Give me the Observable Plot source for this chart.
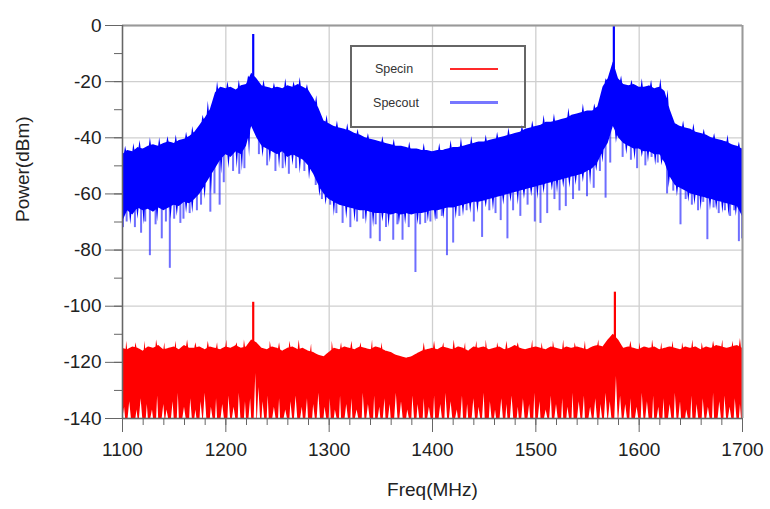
<!DOCTYPE html>
<html><head><meta charset="utf-8">
<script src="https://cdn.jsdelivr.net/npm/d3@7"></script>
<script src="https://cdn.jsdelivr.net/npm/@observablehq/plot@0.6"></script>
<style>
body{margin:0;background:#fff;font-family:"Liberation Sans",Arial,sans-serif;}
#wrap{position:relative;width:770px;height:509px;}
#legend{position:absolute;left:350px;top:45px;width:172px;height:79px;border:2px solid #666;box-sizing:content-box;}
#legend span{position:absolute;font-size:12.5px;color:#333;transform:translate(-50%,-50%);white-space:nowrap;}
#legend i{position:absolute;display:block;}
</style></head><body><div id="wrap"></div>
<script>
// Frequency sampling grid (MHz) for the envelope readings
const freqs = d3.range(1100, 1701, 5);

// Specout (blue): upper and lower edges of the dense noise band (dBm), every 5 MHz
const blueHi = [
  -46,-44.5,-45,-43.5,-44,-43,-42.5,-43,-42,-41.5,-42,-41,-40.5,-39.5,-38,-35.5,-33,-30,-24,-22,
  -22.5,-22,-23,-21.5,-21,-17,-19,-21.5,-22,-22.5,-22,-22.5,-21.5,-22,-21,-22,-23,-26,-29.5,-34,
  -35,-36,-36.5,-37,-37.5,-38.5,-39,-40,-40.5,-41,-41.5,-42,-42.5,-43,-43,-43.5,-44,-44,-44.5,-44.5,
  -45,-44.5,-44.5,-44,-43.5,-43.5,-43,-42.5,-42,-41.5,-41.5,-41,-40.5,-40,-39.5,-39,-38.5,-38,-37,-36.5,
  -36,-35.5,-34.5,-34.5,-34,-33.5,-33,-32,-31.5,-31,-30.5,-30.5,-29,-22,-19,-13,-19,-21,-21.5,-21,
  -22,-22,-21.5,-22.5,-22,-23.5,-30,-35,-36,-36.5,-37,-38,-38.5,-39,-40,-40.5,-41,-41.5,-42.5,-43,
  -44];
const blueLo = [
  -70,-66,-67.5,-65,-66,-65.5,-66.5,-65,-66,-65,-64,-64.5,-63,-63.5,-62,-60,-57,-54,-51,-48,
  -46,-47,-45,-46,-43,-36,-40,-43,-44,-45,-46,-45,-47,-46,-47,-48,-50,-53,-57,-60,
  -62,-63,-64,-64.5,-65,-65.5,-66,-66,-66.5,-67,-67,-67,-67.5,-67,-67.5,-67,-67.5,-67,-67,-66.5,
  -66,-66,-65.5,-65,-65,-64.5,-64,-63.5,-63,-63,-62.5,-62,-61.5,-61,-60.5,-60,-59.5,-59,-58.5,-58,
  -57.5,-57,-56.5,-56,-55.5,-55,-54.5,-54,-53.5,-53,-52,-51,-49,-45,-42,-36,-40,-42,-43,-44,
  -44,-45,-45,-46,-46,-49,-54,-57,-58,-59,-60,-60.5,-61,-61.5,-62,-62.5,-63,-63.5,-64,-64.5,
  -68];

// Specout: short spikes on the top edge (MHz, dBm)
const blueUpFreq = [1103,1111,1117,1127,1136,1144,1152,1162,1168,1178,1183,1192,1202,1213,1222,1237,1247,1258,1266,1272,
  1279,1288,1298,1308,1318,1328,1338,1352,1363,1378,1392,1407,1418,1428,1438,1452,1463,1474,1487,1497,
  1508,1518,1532,1546,1557,1568,1583,1593,1603,1612,1621,1628,1643,1653,1663,1673,1686,1697];
const blueUpVal = [-43,-42,-41,-40,-40,-39.5,-39,-38,-36,-32,-27,-20,-20,-19.5,-18,-19.5,-20.5,-19,-20,-18.5,
  -21,-25,-32,-34,-35,-37,-38.5,-39.5,-40.5,-41.5,-42,-42,-41,-40,-39.5,-39,-38,-36.5,-35.5,-34,
  -32,-31.5,-29.5,-28,-28,-19,-18,-19.5,-19,-19.5,-19,-23,-34,-35,-37,-38.5,-39,-41.5];

// Specout: short solid spikes on the bottom edge (MHz, dBm)
const blueDownFreq = [1108,1115,1121,1134,1147,1153,1162,1168,1180,1186,1196,1203,1211,1216,1223,1236,1243,1252,1258,1265,
  1272,1281,1291,1297,1305,1317,1325,1336,1343,1352,1358,1368,1374,1386,1396,1403,1411,1423,1430,1437,
  1444,1452,1459,1469,1476,1483,1489,1496,1502,1508,1516,1521,1527,1533,1539,1546,1553,1559,1565,1578,
  1588,1596,1603,1609,1616,1622,1629,1637,1648,1654,1660,1669,1675,1681,1687,1694];
const blueDownVal = [-71,-69,-71,-70,-69,-68,-67,-67,-62,-60,-53,-51,-51,-52,-47,-47,-49,-51,-51,-50,
  -53,-55,-61,-64,-68,-69,-70,-71,-72,-70,-72,-71,-71,-71,-70,-70,-69,-69,-68,-67,
  -67,-65,-66,-64,-63,-64,-62,-61,-62,-60,-59,-60,-58,-58,-57,-56,-57,-52,-49,-42,
  -46,-48,-47,-49,-50,-50,-58,-61,-63,-64,-66,-66,-66,-67,-68,-68];

// Specout deep dips below the band: frequency (MHz) and minimum (dBm)
const blueDipFreq = [1100.5,1104,1112,1118,1122,1126.5,1132,1138,1142,1145.8,1150,1156,1159,1165,1172,1176,1185,1189,1194,1198,
  1207,1213,1218,1232,1240,1248,1255,1261,1268,1276,1287,1293,1301,1307,1313,1320.5,1327,1333,1340,1345,
  1349,1355,1362,1366,1371,1377,1383.5,1388,1393,1398,1404,1409,1414,1420,1426,1433,1440,1448,1455,1461,
  1466,1472.5,1478,1485,1492,1499,1504.5,1511,1518,1523,1529,1536,1542,1549.5,1556,1562,1567.5,1572,1584,1592,
  1598,1606,1612,1618,1627,1633,1640,1645,1651,1657,1662,1666,1672,1677,1683,1688,1692,1696.5,1699.5];
const blueDipMin = [-72,-70,-72,-74,-70,-82,-71,-76,-70,-86.5,-69,-70.5,-69,-67,-66,-64,-66.5,-60,-64,-56,
  -52,-53,-51,-46,-50,-52,-51,-53,-51,-52,-57,-62,-64,-67,-70.5,-72,-70,-69,-76,-71,
  -77,-72,-76.5,-71,-76.5,-72,-88,-71,-70.5,-70,-69,-68,-82,-77.5,-68,-66,-70,-75.5,-66,-67,
  -69.5,-76,-66,-68,-64,-70,-70.5,-67,-62,-66,-64.5,-62,-59,-61,-58,-52,-61.5,-49,-47,-48,
  -51,-50,-47,-49,-60,-59,-71,-62,-64,-66,-63,-76.3,-65,-67,-66,-68,-66,-77,-76];

// Carrier peaks (MHz, dBm)
const bluePeakFreq = [1226.5, 1575.5];
const bluePeakTop = [-3.2, 0];
const redPeakFreq = [1226.5, 1576.5];
const redPeakTop = [-98.6, -95];

// Specin (red): upper edge of the noise band (dBm), every 5 MHz
const redHi = [
  -115,-115.5,-114.5,-115,-116,-114.5,-115,-114,-115.5,-115,-114.5,-115.5,-114,-115,-115,-114.5,-115.5,-114.5,-115,-115.5,
  -114.5,-115,-114,-115,-114.5,-112,-113,-115,-115.5,-114.5,-115,-116,-115,-114.5,-115.5,-115,-116,-116.5,-117.5,-118,
  -116.5,-115,-115.5,-114.5,-115,-115.5,-114.5,-115,-115.5,-114.5,-115,-116,-116.5,-117.5,-118,-118.5,-118,-117,-116,-115.5,
  -115,-115.5,-114.5,-115,-115.5,-114.5,-115,-116,-114.5,-115,-114.5,-115.5,-115,-114.5,-115.5,-115,-114,-115,-115.5,-115,
  -114.5,-115,-115.5,-114.5,-115,-115.5,-114.5,-115,-114.5,-115,-115.5,-114.5,-114,-114.5,-112,-110,-112,-115,-114.5,-115,
  -115.5,-114.5,-115,-114.5,-115.5,-115,-114.5,-115,-115.5,-114.5,-115,-114.5,-115.5,-114.5,-115,-114,-114.5,-115,-114.5,-114,
  -115];

// Specin: short spikes on the top edge (MHz, dBm)
const redUpFreq = [1104,1113,1122,1133,1141,1152,1163,1171,1183,1192,1201,1211,1218,1243,1252,1262,1271,1283,1303,1312,
  1322,1331,1342,1351,1392,1402,1411,1421,1432,1443,1452,1463,1472,1483,1497,1506,1517,1527,1538,1548,
  1561,1592,1601,1613,1622,1633,1642,1652,1661,1672,1681,1691,1698];
const redUpVal = [-112.5,-113,-112.5,-112,-113,-112.5,-112,-113,-112.5,-113,-112,-113,-112,-112.5,-113,-112.5,-112,-113.5,-112.5,-113,
  -112.5,-113,-112,-113,-113,-112.5,-113,-112,-113,-112.5,-112,-113,-112.5,-113,-112,-113,-112.5,-112,-113,-112.5,
  -112,-112.5,-113,-112,-113,-112.5,-113,-112,-113,-112.5,-112,-112.5,-111.5];

// Specin: white notches rising from the floor (MHz, dBm reached)
const redNotchFreq = [1102,1107,1114,1118,1124,1129,1134,1140,1143,1149,1154,1160,1166,1171,1176,1180,1186,1191,1197,1203,
  1208,1213,1219,1224,1229,1232,1236,1241,1247,1252,1258,1263,1268,1274,1279,1285,1290,1296,1301,1306,
  1311,1317,1322,1327,1333,1338,1344,1349,1354,1359,1365,1370,1376,1381,1386,1392,1397,1402,1408,1413,
  1418,1424,1429,1434,1440,1445,1450,1456,1461,1467,1472,1477,1483,1488,1494,1499,1504,1510,1515,1520,
  1526,1531,1536,1542,1547,1553,1558,1563,1568,1572,1578,1582,1587,1592,1598,1603,1608,1614,1619,1624,
  1630,1635,1640,1646,1651,1656,1662,1667,1672,1678,1683,1688,1693,1698];
const redNotchTop = [-136,-134,-137,-133,-135,-137,-132,-135,-137,-134,-131,-136,-133,-137,-134,-131,-136,-133,-135,-132,
  -136,-131,-134,-133,-124,-129,-134,-132,-136,-133,-137,-134,-132,-136,-133,-135,-131,-136,-133,-137,
  -132,-135,-133,-137,-131,-135,-132,-136,-133,-135,-131,-134,-137,-132,-135,-133,-136,-132,-135,-131,
  -134,-137,-132,-135,-133,-136,-131,-134,-137,-133,-135,-132,-136,-133,-135,-131,-134,-137,-132,-135,
  -133,-136,-131,-134,-132,-136,-133,-135,-131,-134,-125,-132,-135,-133,-136,-131,-134,-132,-136,-133,
  -135,-131,-134,-137,-132,-135,-133,-136,-131,-134,-132,-136,-133,-135];

// Axis ticks and labels
const xDomain = [1100, 1700];
const yDomain = [-140, 0];
const xTicks = [1100, 1200, 1300, 1400, 1500, 1600, 1700];
const yTicks = [0, -20, -40, -60, -80, -100, -120, -140];
const xMinor = d3.range(1100, 1701, 20);
const yMinor = d3.range(-140, 1, 10);
const seriesNames = ["Specin", "Specout"];
const xLabel = "Freq(MHz)";
const yLabel = "Power(dBm)";

// ---- build the band outlines from the readings ----
const interp = (arr, f) => {
  const i = Math.max(0, Math.min(Math.floor((f - freqs[0]) / 5), arr.length - 2));
  const t = (f - freqs[i]) / 5;
  return arr[i] * (1 - t) + arr[i + 1] * t;
};
function band(baseHi, upF, upV, baseLo, dnF, dnV, wUp, wDn) {
  const xs = new Set(freqs);
  for (const f of upF) { xs.add(+(f - wUp).toFixed(3)); xs.add(f); xs.add(+(f + wUp).toFixed(3)); }
  for (const f of dnF) { xs.add(+(f - wDn).toFixed(3)); xs.add(f); xs.add(+(f + wDn).toFixed(3)); }
  const up = new Map(upF.map((f, i) => [f, upV[i]]));
  const dn = new Map(dnF.map((f, i) => [f, dnV[i]]));
  return [...xs].filter(x => x >= xDomain[0] && x <= xDomain[1]).sort((a, b) => a - b).map(x => ({
    f: x,
    hi: up.has(x) ? up.get(x) : interp(baseHi, x),
    lo: dn.has(x) ? dn.get(x) : (baseLo ? interp(baseLo, x) : yDomain[0])
  }));
}
const blue = band(blueHi, blueUpFreq, blueUpVal, blueLo, blueDownFreq, blueDownVal, 1, 1);
const red = band(redHi, redUpFreq, redUpVal, null, redNotchFreq, redNotchTop, 1, 1.6);
const blueDips = blueDipFreq.map((f, i) => ({f, y1: blueDipMin[i], y2: interp(blueLo, f) + 2}));
const bluePeaks = bluePeakFreq.map((f, i) => ({f, top: bluePeakTop[i], base: interp(blueHi, f) - 2}));
const redPeaks = redPeakFreq.map((f, i) => ({f, top: redPeakTop[i], base: interp(redHi, f) - 2}));

const fmt = d => String(d);
const chart = Plot.plot({
  width: 770, height: 509,
  marginLeft: 122, marginRight: 28, marginTop: 25, marginBottom: 91,
  x: {domain: xDomain},
  y: {domain: yDomain},
  style: {fontFamily: "'Liberation Sans', Arial, sans-serif", color: "#222", background: "transparent", overflow: "visible"},
  marks: [
    Plot.gridX(xTicks, {stroke: "#cfcfcf", strokeOpacity: 1, strokeWidth: 1.3}),
    Plot.gridY(yTicks, {stroke: "#cfcfcf", strokeOpacity: 1, strokeWidth: 1.3}),
    Plot.ruleX(blueDips, {x: "f", y1: "y1", y2: "y2", stroke: "#2020ff", strokeOpacity: 0.65, strokeWidth: 2}),
    Plot.areaY(blue, {x: "f", y1: "lo", y2: "hi", fill: "#0000ff"}),
    Plot.ruleX(bluePeaks, {x: "f", y1: "base", y2: "top", stroke: "#0000ff", strokeWidth: 2.2}),
    Plot.areaY(red, {x: "f", y1: "lo", y2: "hi", fill: "#ff0000"}),
    Plot.ruleX(redPeaks, {x: "f", y1: "base", y2: "top", stroke: "#ff0000", strokeWidth: 2.2}),
    Plot.ruleY([yDomain[1]], {stroke: "#999", strokeWidth: 2}),
    Plot.ruleX([xDomain[1]], {stroke: "#999", strokeWidth: 2}),
    Plot.ruleX([xDomain[0]], {stroke: "#666", strokeWidth: 1.5}),
    Plot.ruleY([yDomain[0]], {stroke: "#666", strokeWidth: 1.5}),
    Plot.axisX(xMinor, {tickSize: 7, tickFormat: () => "", stroke: "#666", label: null}),
    Plot.axisX(xTicks, {tickSize: 14, tickPadding: 10, fontSize: 19, tickFormat: fmt, stroke: "#666", fill: "#222", label: null}),
    Plot.axisY(yMinor, {tickSize: 8, tickFormat: () => "", stroke: "#666", label: null}),
    Plot.axisY(yTicks, {tickSize: 17, tickPadding: 4, fontSize: 19, tickFormat: fmt, stroke: "#666", fill: "#222", label: null}),
    Plot.text([xLabel], {frameAnchor: "bottom", dy: 77, fontSize: 19, fill: "#222"}),
    Plot.text([yLabel], {frameAnchor: "left", dx: -100, rotate: -90, fontSize: 19, fill: "#222"})
  ]
});
const wrap = document.getElementById("wrap");
wrap.appendChild(chart);

// Legend box (transparent, drawn over the plot)
const legend = document.createElement("div");
legend.id = "legend";
legend.innerHTML =
  `<span style="left:42px;top:22px">${seriesNames[0]}</span>` +
  `<span style="left:44px;top:56px">${seriesNames[1]}</span>` +
  `<i style="left:98px;top:21px;width:48px;height:2px;background:#ff2a2a"></i>` +
  `<i style="left:98px;top:54px;width:48px;height:3px;background:#7777ff"></i>`;
wrap.appendChild(legend);
</script></body></html>
